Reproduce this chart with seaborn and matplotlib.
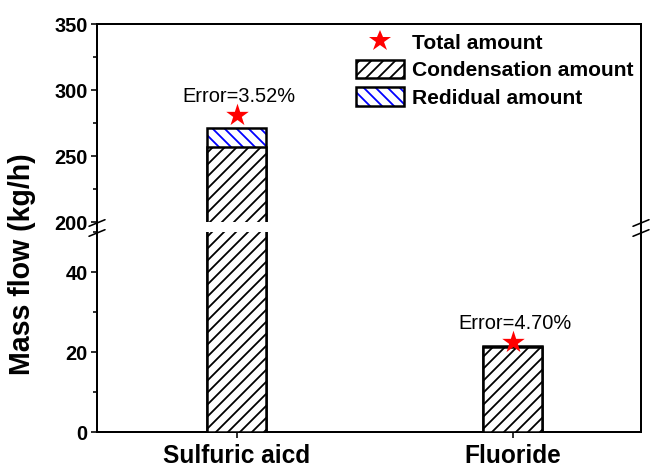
import numpy as np
import pandas as pd
import matplotlib
matplotlib.use("Agg")
import matplotlib.pyplot as plt
from matplotlib.patches import Patch
from matplotlib.lines import Line2D
from matplotlib.ticker import AutoMinorLocator
import seaborn as sns

# ---------------- data ----------------
categories = ["Sulfuric aicd", "Fluoride"]
condensation = [257.0, 21.3]
residual = [14.0, 0.2]
total_amount = [281.0, 22.4]
error_labels = ["Error=3.52%", "Error=4.70%"]
upper_range = (200, 350)
lower_range = (0, 50)
upper_ticks = [200, 250, 300, 350]
lower_ticks = [0, 20, 40]
legend_labels = ["Total amount", "Condensation amount", "Redidual amount"]
y_label = "Mass flow (kg/h)"

# ---------------- style ----------------
sns.set_style("ticks")
plt.rcParams['font.family'] = ['Liberation Sans', 'DejaVu Sans']
plt.rcParams['hatch.linewidth'] = 1.8
for k in ("text.color", "axes.labelcolor", "xtick.color", "ytick.color", "axes.edgecolor"):
    plt.rcParams[k] = "black"

DPI = 72
W, H = 657, 469
fig = plt.figure(figsize=(W / DPI, H / DPI), dpi=DPI)


def box(l, t, r, b):
    return [l / W, 1 - b / H, (r - l) / W, (b - t) / H]


ax_top = fig.add_axes(box(97, 24, 641, 222))
ax_bot = fig.add_axes(box(97, 232, 641, 432))

stack = [c + r for c, r in zip(condensation, residual)]
df = pd.DataFrame({"category": categories, "condensation": condensation,
                   "stack": stack, "total": total_amount})
xpos = np.arange(len(categories))
BAR_W = 0.214

for ax in (ax_top, ax_bot):
    # residual (blue hatch) layer = full stack height
    sns.barplot(data=df, x="category", y="stack", ax=ax, width=BAR_W,
                color="white", saturation=1, errorbar=None)
    for p in ax.containers[-1]:
        p.set_facecolor("white"); p.set_edgecolor("blue")
        p.set_hatch("\\\\"); p.set_linewidth(0); p.set_zorder(2)
    # black outline of stack
    sns.barplot(data=df, x="category", y="stack", ax=ax, width=BAR_W,
                color="white", saturation=1, errorbar=None)
    for p in ax.containers[-1]:
        p.set_facecolor("none"); p.set_edgecolor("black")
        p.set_linewidth(2.5); p.set_zorder(3)
    # condensation layer
    sns.barplot(data=df, x="category", y="condensation", ax=ax, width=BAR_W,
                color="white", saturation=1, errorbar=None)
    for p in ax.containers[-1]:
        p.set_facecolor("white"); p.set_edgecolor("black")
        p.set_hatch("//"); p.set_linewidth(2.5); p.set_zorder(4)
    # total amount stars
    sns.scatterplot(x=xpos, y=total_amount, ax=ax, marker="*", s=560,
                    color="red", linewidth=0, zorder=6, legend=False)
    ax.set_xlim(-0.507, 1.464)
    ax.set_xlabel("")
    ax.set_ylabel("")
    for s in ax.spines.values():
        s.set_linewidth(2)
        s.set_color("black")
    ax.tick_params(axis="y", which="major", direction="out", length=6, width=1.6,
                   labelsize=20, colors="black")
    ax.tick_params(axis="y", which="minor", direction="out", length=4, width=1.6,
                   colors="black")

ax_top.set_ylim(*upper_range)
ax_top.set_yticks(upper_ticks)
ax_top.yaxis.set_minor_locator(AutoMinorLocator(2))
ax_top.spines["bottom"].set_visible(False)
ax_top.tick_params(axis="x", bottom=False, labelbottom=False)

ax_bot.set_ylim(*lower_range)
ax_bot.set_yticks(lower_ticks)
ax_bot.yaxis.set_minor_locator(AutoMinorLocator(2))
ax_bot.spines["top"].set_visible(False)
ax_bot.set_xticks(xpos)
ax_bot.set_xticklabels(categories, fontsize=24.5, fontweight="bold")
ax_bot.tick_params(axis="x", direction="out", length=6, width=1.6, pad=6,
                   colors="black")
for ax in (ax_top, ax_bot):
    for t in ax.get_yticklabels():
        t.set_fontweight("bold")

# error annotations
for i, lab in enumerate(error_labels):
    ax = ax_top if total_amount[i] > lower_range[1] else ax_bot
    ax.annotate(lab, (xpos[i], total_amount[i]), xytext=(2, 19),
                textcoords="offset points", ha="center", va="center",
                fontsize=20, zorder=7, color="black")

# axis break marks
for xs in (97, 641):
    fig.add_artist(Line2D([xs / W, xs / W], [1 - 222 / H, 1 - 232 / H],
                          transform=fig.transFigure, color="black", lw=2))
    for yc in (223, 233):
        fig.add_artist(Line2D([(xs - 8) / W, (xs + 8) / W],
                              [1 - (yc + 3.3) / H, 1 - (yc - 3.3) / H],
                              transform=fig.transFigure, color="black", lw=1.6))

# y label
fig.text(22 / W, 1 - 264 / H, y_label, rotation=90, ha="center", va="center",
         fontsize=28.5, fontweight="bold", color="black")

# legend
handles = [
    Line2D([], [], marker="*", color="red", ls="", markersize=23, markeredgewidth=0),
    Patch(facecolor="white", edgecolor="black", hatch="//", lw=2.5),
    (Patch(facecolor="white", edgecolor="blue", hatch="\\\\", lw=0),
     Patch(facecolor="none", edgecolor="black", lw=2.5)),
]
fig.legend(handles, legend_labels, loc="upper left",
           bbox_to_anchor=(356 / W, 1 - 33 / H), frameon=False,
           prop={"weight": "bold", "size": 21}, handlelength=2.3,
           handleheight=0.95, handletextpad=0.38, labelspacing=0.33,
           borderpad=0, borderaxespad=0)

fig.savefig("out.png", dpi=DPI)
